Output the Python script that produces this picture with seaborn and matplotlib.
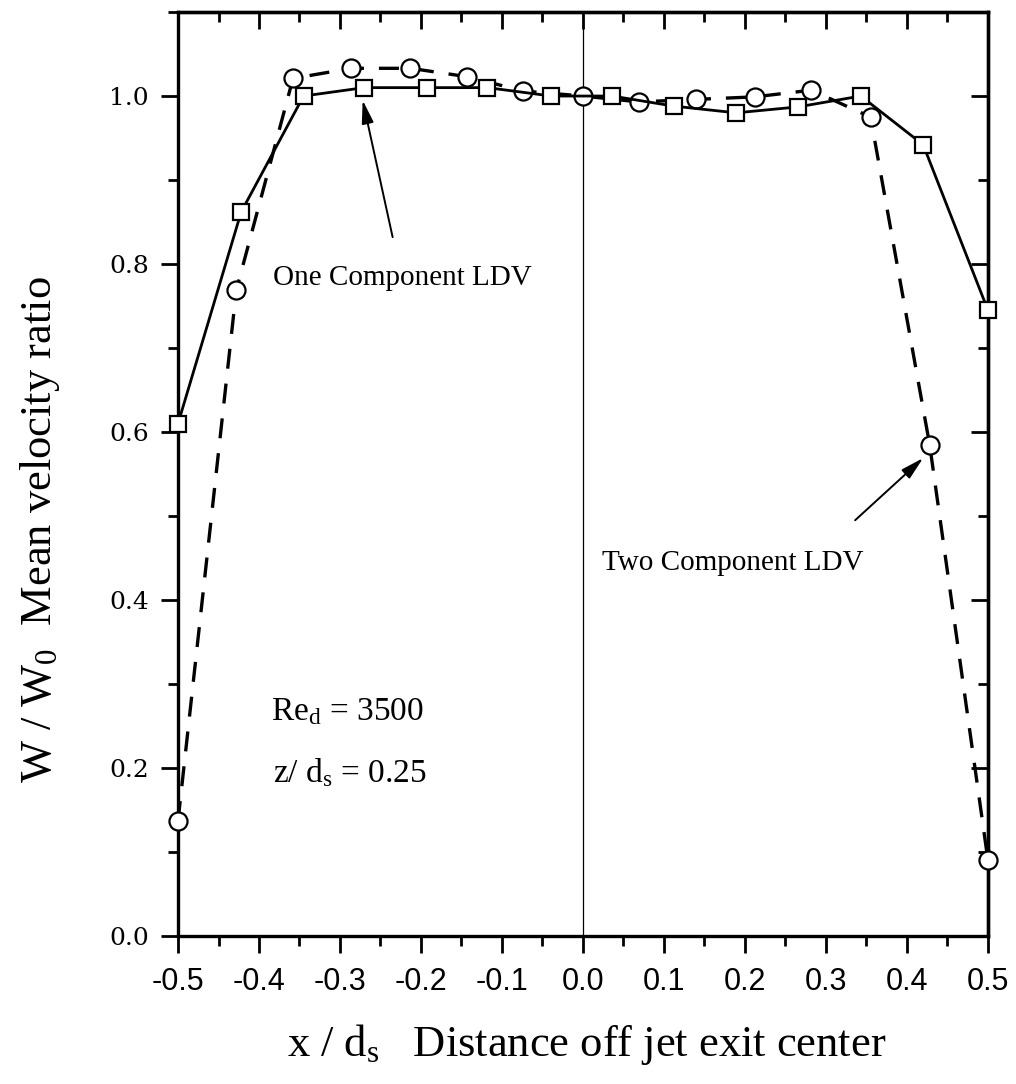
import matplotlib
matplotlib.use("Agg")
import matplotlib.pyplot as plt
import seaborn as sns
import pandas as pd
from matplotlib.ticker import MultipleLocator

# ---- data ----
x_one = [-0.5, -0.422, -0.345, -0.27, -0.193, -0.118, -0.039, 0.036, 0.112, 0.189, 0.265, 0.343, 0.42, 0.5]
y_one = [0.61, 0.862, 1.0, 1.01, 1.01, 1.01, 1.0, 1.0, 0.988, 0.98, 0.987, 1.0, 0.942, 0.745]

x_two = [-0.5, -0.428, -0.358, -0.286, -0.213, -0.143, -0.074, 0.0, 0.069, 0.139, 0.212, 0.282, 0.355, 0.428, 0.5]
y_two = [0.137, 0.769, 1.021, 1.033, 1.033, 1.023, 1.006, 1.0, 0.993, 0.996, 0.999, 1.007, 0.975, 0.585, 0.09]

x_ticks = [-0.5, -0.4, -0.3, -0.2, -0.1, 0.0, 0.1, 0.2, 0.3, 0.4, 0.5]
x_tick_labels = ["-0.5", "-0.4", "-0.3", "-0.2", "-0.1", "0.0", "0.1", "0.2", "0.3", "0.4", "0.5"]
y_ticks = [0.0, 0.2, 0.4, 0.6, 0.8, 1.0]
y_tick_labels = ["0.0", "0.2", "0.4", "0.6", "0.8", "1.0"]

df_one = pd.DataFrame({"x": x_one, "y": y_one})
df_two = pd.DataFrame({"x": x_two, "y": y_two})

sns.set_theme(style="ticks")
plt.rcParams["font.family"] = ["Liberation Serif", "DejaVu Serif"]
plt.rcParams["mathtext.fontset"] = "custom"
plt.rcParams["mathtext.rm"] = "Liberation Serif"
plt.rcParams["mathtext.it"] = "Liberation Serif:italic"

fig = plt.figure(figsize=(10.16, 10.84), dpi=100)
fig.patch.set_facecolor("white")
ax = fig.add_axes([0.1752, 0.1365, 0.7972, 0.8524])
ax.set_facecolor("white")

ax.axvline(0.0, color="black", lw=0.9, zorder=1)

sns.lineplot(data=df_two, x="x", y="y", ax=ax, color="black", lw=2.4,
             linestyle=(0, (6, 4.5)), marker="o", markersize=13,
             markerfacecolor="white", markeredgecolor="black", markeredgewidth=1.6,
             estimator=None, sort=False, clip_on=False, zorder=3)
sns.lineplot(data=df_one, x="x", y="y", ax=ax, color="black", lw=2.0,
             linestyle="-", marker="s", markersize=12,
             markerfacecolor="white", markeredgecolor="black", markeredgewidth=1.6,
             estimator=None, sort=False, clip_on=False, zorder=4)

ax.set_xlim(-0.5, 0.5)
ax.set_ylim(0.0, 1.1)

# ticks: bottom/left outward
ax.set_xticks(x_ticks)
ax.set_xticklabels(x_tick_labels, family="Liberation Sans", fontsize=22)
ax.set_yticks(y_ticks)
ax.set_yticklabels(y_tick_labels, family="DejaVu Serif", fontsize=18)
ax.xaxis.set_minor_locator(MultipleLocator(0.05))
ax.yaxis.set_minor_locator(MultipleLocator(0.1))
ax.tick_params(axis="both", which="major", direction="out", length=12, width=2.0,
               color="black", top=False, right=False, bottom=True, left=True)
ax.tick_params(axis="both", which="minor", direction="out", length=7, width=2.0,
               color="black", top=False, right=False, bottom=True, left=True)
ax.tick_params(axis="x", which="major", pad=10, labelcolor="black")
ax.tick_params(axis="y", which="major", pad=9, labelcolor="black")

for sp in ax.spines.values():
    sp.set_visible(True)
    sp.set_color("black")
    sp.set_linewidth(2.4)

# mirrored ticks top/right pointing inward
secx = ax.secondary_xaxis("top")
secx.set_xticks(x_ticks)
secx.xaxis.set_minor_locator(MultipleLocator(0.05))
secx.tick_params(axis="x", which="major", direction="in", length=12, width=2.0,
                 color="black", labeltop=False)
secx.tick_params(axis="x", which="minor", direction="in", length=7, width=2.0,
                 color="black", labeltop=False)
secx.spines["top"].set_linewidth(2.4)
secx.spines["top"].set_color("black")

secy = ax.secondary_yaxis("right")
secy.set_yticks(y_ticks)
secy.yaxis.set_minor_locator(MultipleLocator(0.1))
secy.tick_params(axis="y", which="major", direction="in", length=12, width=2.0,
                 color="black", labelright=False)
secy.tick_params(axis="y", which="minor", direction="in", length=7, width=2.0,
                 color="black", labelright=False)
secy.spines["right"].set_linewidth(2.4)
secy.spines["right"].set_color("black")

# axis labels
ax.set_xlabel(r"x / d$_{\rm s}$   Distance off jet exit center", fontsize=32, color="black")
ax.set_ylabel(r"W / W$_{\rm 0}$  Mean velocity ratio", fontsize=32, color="black")
ax.xaxis.set_label_coords(0.505, -0.093)
ax.yaxis.set_label_coords(-0.143, 0.44)

# annotations
arrow_kw = dict(arrowstyle="-|>,head_length=0.7,head_width=0.18", color="black",
                lw=1.4, shrinkA=0, shrinkB=0, mutation_scale=20)
ax.annotate("", xy=(-0.272, 0.995), xytext=(-0.235, 0.832), arrowprops=arrow_kw)
ax.annotate("", xy=(0.42, 0.569), xytext=(0.336, 0.495), arrowprops=arrow_kw)

ax.text(-0.383, 0.775, "One Component LDV", fontsize=21, color="black", va="baseline")
ax.text(0.024, 0.436, "Two Component LDV", fontsize=21, color="black", va="baseline")
ax.text(-0.385, 0.257, r"Re$_{\rm d}$ = 3500", fontsize=24, color="black", va="baseline")
ax.text(-0.383, 0.183, r"z/ d$_{\rm s}$ = 0.25", fontsize=24, color="black", va="baseline")

fig.savefig("out.png", dpi=100, facecolor="white")
